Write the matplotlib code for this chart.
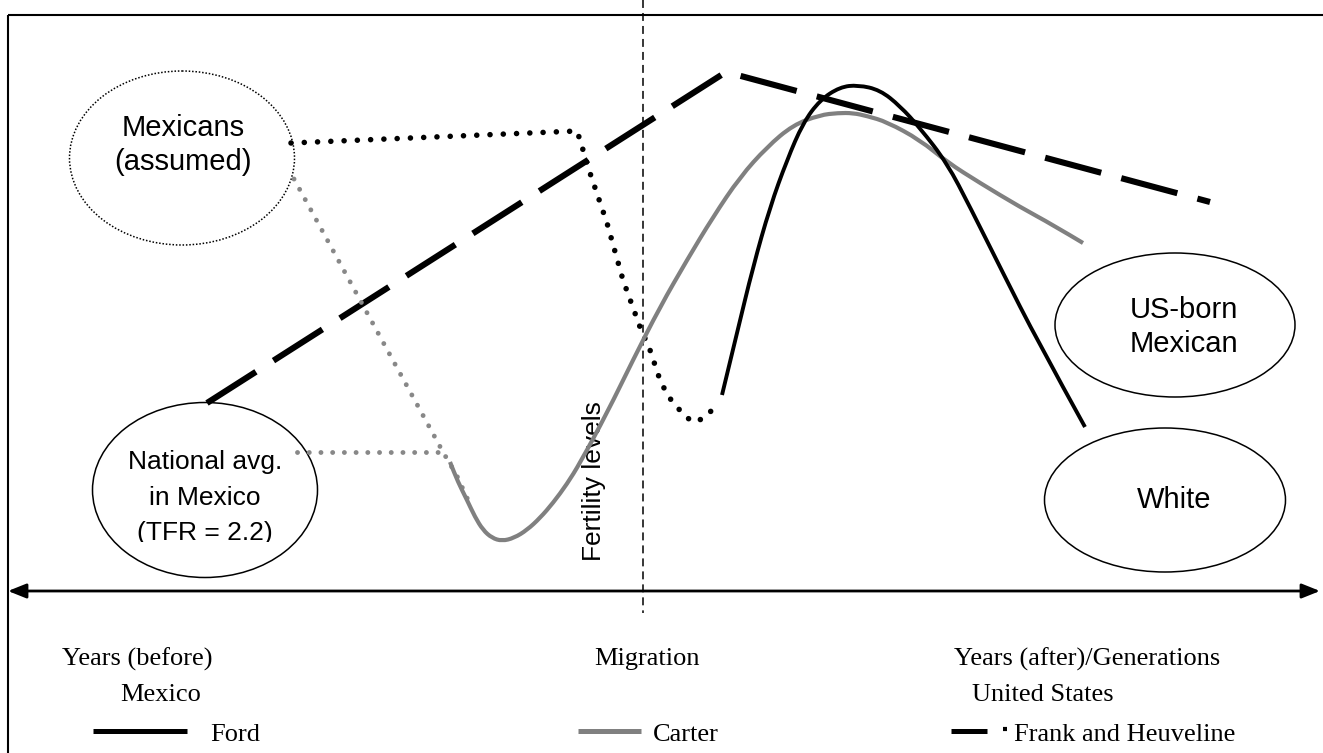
import matplotlib
matplotlib.use("Agg")
import matplotlib.pyplot as plt
from matplotlib.patches import Ellipse, Rectangle, PathPatch
from matplotlib.path import Path

# ---------------- data (pixel-space diagram coordinates) ----------------
ford_x = [722, 737, 753, 770, 787, 803, 820, 840, 858, 880, 900, 920, 947, 970, 1003, 1037, 1085]
ford_y = [395, 333, 267, 207, 160, 123, 100, 87, 85, 90, 106, 128, 163, 207, 273, 340, 427]

carter_x = [450, 458, 467, 475, 483, 492, 502, 514, 527, 540, 553, 567, 580, 607, 633, 660, 687, 713, 740, 767, 793,
            820, 838, 853, 867, 887, 920, 947, 980, 1020, 1053, 1083]
carter_y = [462, 482, 500, 517, 530, 538, 541, 538, 530, 518, 503, 484, 463, 413, 360, 307, 260, 217, 177, 147, 125,
            115, 113, 113, 116, 122, 140, 162, 183, 207, 225, 243]

frank_x = [207, 726, 1210]
frank_y = [403, 72, 202]

mex_dot_x = [291, 577, 580, 590, 607, 623, 640, 650, 660, 668, 677, 685, 693, 702, 710, 720]
mex_dot_y = [143, 131, 140, 173, 223, 280, 327, 350, 380, 396, 407, 416, 422, 419, 412, 403]

gray_dot_x = [294, 443, 457, 468]
gray_dot_y = [179, 452, 476, 500]
nat_dot_x = [297, 443]
nat_dot_y = [452, 452]

ellipse_labels = ["Mexicans\n(assumed)", "National avg.\nin Mexico\n(TFR = 2.2)", "US-born\nMexican", "White"]

bottom_labels = ["Years (before)", "Mexico", "Migration", "Years (after)/Generations", "United States"]
legend_labels = ["Ford", "Carter", "Frank and Heuveline"]

SANS = "Liberation Sans"
SERIF = "Liberation Serif"
GRAY = "#808080"


def smooth_path(xs, ys):
    """Quadratic B-spline style path through the read points (library Bezier curves)."""
    pts = list(zip(xs, ys))
    verts = [pts[0]]
    codes = [Path.MOVETO]
    m = ((pts[0][0] + pts[1][0]) / 2, (pts[0][1] + pts[1][1]) / 2)
    verts.append(m)
    codes.append(Path.LINETO)
    for i in range(1, len(pts) - 1):
        if i < len(pts) - 2:
            end = ((pts[i][0] + pts[i + 1][0]) / 2, (pts[i][1] + pts[i + 1][1]) / 2)
        else:
            end = pts[i + 1]
        verts += [pts[i], end]
        codes += [Path.CURVE3, Path.CURVE3]
    return Path(verts, codes)


fig = plt.figure(figsize=(13.23, 7.53), dpi=100)
ax = fig.add_axes([0, 0, 1, 1])
ax.set_xlim(0, 1323)
ax.set_ylim(753, 0)
ax.axis("off")

# frame
ax.plot([8, 1323], [15, 15], color="black", lw=1.5, solid_capstyle="butt")
ax.plot([8, 8], [15, 753], color="black", lw=1.5, solid_capstyle="butt")

# migration dashed vertical
ax.plot([643, 643], [0, 613], color="black", lw=1.1, linestyle=(0, (5.2, 3.3)))

# horizontal double arrow
ax.annotate("", xy=(8, 591), xytext=(1320, 591),
            arrowprops=dict(arrowstyle="<|-|>,head_length=0.55,head_width=0.22",
                            lw=2, color="black", mutation_scale=20, shrinkA=0, shrinkB=0))

# Frank and Heuveline
ax.plot(frank_x, frank_y, color="black", lw=4.4, linestyle=(0, (9.5, 3.4)),
        dash_capstyle="butt", solid_joinstyle="miter", zorder=3)

# dotted connectors
ax.plot(mex_dot_x, mex_dot_y, color="black", lw=4.0, linestyle=(0, (0.01, 2.38)),
        dash_capstyle="round", zorder=3)
ax.plot(gray_dot_x, gray_dot_y, color="#888888", lw=3.5, linestyle=(0, (0.01, 2.4)),
        dash_capstyle="round", zorder=3)
ax.plot(nat_dot_x, nat_dot_y, color="#888888", lw=3.5, linestyle=(0, (0.01, 2.4)),
        dash_capstyle="round", zorder=3)

# Carter and Ford curves
ax.add_patch(PathPatch(smooth_path(carter_x, carter_y), fill=False, ec=GRAY, lw=3.0,
                       capstyle="butt", joinstyle="round", zorder=4))
ax.add_patch(PathPatch(smooth_path(ford_x, ford_y), fill=False, ec="black", lw=2.8,
                       capstyle="butt", joinstyle="round", zorder=4))

# ellipses
ax.add_patch(Ellipse((182, 158), 225, 174, fill=False, ec="black", lw=1.1, linestyle=(0, (1, 1.2))))
ax.add_patch(Ellipse((205, 490), 225, 175, fill=False, ec="black", lw=1.1))
ax.add_patch(Ellipse((1175, 325), 240, 144, fill=False, ec="black", lw=1.1))
ax.add_patch(Ellipse((1165, 500), 241, 144, fill=False, ec="black", lw=1.1))

ax.text(183, 145, ellipse_labels[0], ha="center", va="center", fontsize=21, family=SANS,
        linespacing=1.25)
nat_lines = ellipse_labels[1].split("\n")
ax.text(205, 462, nat_lines[0], ha="center", va="center", fontsize=19, family=SANS)
ax.text(205, 498, nat_lines[1], ha="center", va="center", fontsize=19, family=SANS)
t = ax.text(205, 540, nat_lines[2], ha="center", va="baseline", fontsize=19, family=SANS)
t.set_clip_on(True)
t.set_clip_path(Rectangle((0, 0), 1323, 542, transform=ax.transData))
ax.text(1184, 327, ellipse_labels[2], ha="center", va="center", fontsize=21, family=SANS,
        linespacing=1.3)
ax.text(1174, 500, ellipse_labels[3], ha="center", va="center", fontsize=21, family=SANS)

ax.text(594, 481, "Fertility levels", rotation=90, ha="center", va="center", fontsize=19, family=SANS)

# bottom labels
ax.text(62, 659, bottom_labels[0], ha="left", va="center", fontsize=19, family=SERIF)
ax.text(120, 695, bottom_labels[1], ha="left", va="center", fontsize=19, family=SERIF)
ax.text(594, 659, bottom_labels[2], ha="left", va="center", fontsize=19, family=SERIF)
ax.text(954, 659, bottom_labels[3], ha="left", va="center", fontsize=19, family=SERIF)
ax.text(972, 695, bottom_labels[4], ha="left", va="center", fontsize=19, family=SERIF)

# legend
ax.plot([93, 187], [731, 731], color="black", lw=3.6, solid_capstyle="butt")
ax.text(210, 735, legend_labels[0], ha="left", va="center", fontsize=19, family=SERIF)
ax.plot([578, 641], [731, 731], color=GRAY, lw=3.6, solid_capstyle="butt")
ax.text(653, 735, legend_labels[1], ha="left", va="center", fontsize=19, family=SERIF)
ax.plot([951, 987], [731, 731], color="black", lw=3.6, solid_capstyle="butt")
ax.plot([1003, 1007], [729, 729], color="black", lw=3.0, solid_capstyle="butt")
ax.text(1014, 735, legend_labels[2], ha="left", va="center", fontsize=19, family=SERIF)

fig.savefig("out.png", dpi=100)
